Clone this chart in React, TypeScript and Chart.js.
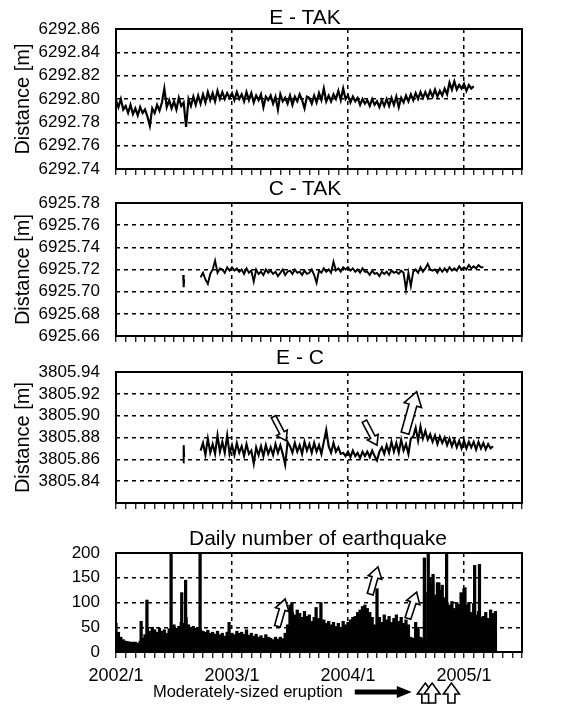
import { useEffect, useRef } from 'react';
import { Chart, registerables } from 'chart.js';

Chart.register(...registerables);

const FONT = "'Liberation Sans', Arial, Helvetica, sans-serif";

// ---------------- data ----------------
// x values are months since 2002/1
const MONTH_MIN = 0;
const MONTH_MAX = 42;
const YEAR_MONTHS = [0, 12, 24, 36];
const YEAR_LABELS = ['2002/1', '2003/1', '2004/1', '2005/1'];
const SAMPLE_STEP = 0.25; // months between samples

// E - TAK : offsets in mm from 6292.80 m
const E_TAK_TICK_LABELS = ['6292.74', '6292.76', '6292.78', '6292.80', '6292.82', '6292.84', '6292.86'];
const E_TAK_START = 0;
const E_TAK_MM = [
  -1, -7, 0, -9, -6, -12, -5, -13, -8, -14, -7, -12, -9, -15, -23, -8,
  -12, -5, -10, -3, 9, -7, -1, -8, -2, -9, 1, -6, -3, -24, 0, -6,
  2, -5, 3, -4, 4, -3, 6, -1, 5, -2, 7, 0, 6, 0, 5, 1,
  5, -1, 6, 0, 4, -2, 6, -1, 5, -3, 3, -1, 4, -7, 2, -1,
  3, -4, 2, -9, 4, -2, 1, -4, 3, -5, 2, -2, 4, -1, -8, 2,
  1, -4, 3, -3, 5, -1, 9, -2, 3, -2, 4, 0, 7, -1, 9, 0,
  3, -3, 2, -2, 1, -5, 0, -4, -1, -6, 0, -5, -2, -7, -1, -6,
  0, -6, 1, -5, 2, -7, 1, -3, 3, -2, 4, -1, 5, 0, 6, 1,
  6, 1, 7, 2, 8, 2, 7, 3, 9, 4, 14, 8, 15, 8, 12, 9,
  13, 7, 12, 9, 11,
];

// C - TAK : offsets in mm from 6925.72 m
const C_TAK_TICK_LABELS = ['6925.66', '6925.68', '6925.70', '6925.72', '6925.74', '6925.76', '6925.78'];
const C_TAK_ISOLATED_MONTHS = [6.95, 7.0, 7.05];
const C_TAK_ISOLATED_MM = [-5, -16, -9];
const C_TAK_START = 8.75;
const C_TAK_MM = [
  -7,
  -3, -9, -13, -4, 0, 8, -3, 1, 0, -3, 2, -1, 2, -1, 1, -2,
  0, -4, 1, -3, -1, -11, 0, -4, -2, -5, 0, -3, -1, -4, -2, -6,
  -3, 0, -5, -2, -1, -4, 0, -3, -2, -5, -1, -4, -3, 0, -5, -12,
  -1, -3, 1, -2, 0, -3, 7, -1, 1, -2, 2, 0, 2, -1, 1, -2,
  0, -3, 1, -2, -2, -5, -1, -4, -3, -6, -2, -4, -2, -5, -1, -3,
  -2, -4, -1, -3, -18, -3, -15, -2, 0, -3, 2, -2, 1, 5, 0, -1,
  0, -3, 1, -2, 1, -2, 2, -1, 1, -1, 3, 0, 2, 0, 4, 1,
  3, 1, 4, 2, 2,
];

// E - C : offsets in mm from 3805.87 m
const E_C_TICK_LABELS = ['', '3805.84', '3805.86', '3805.88', '3805.90', '3805.92', '3805.94'];
const E_C_ISOLATED_MONTHS = [6.95, 7.0, 7.05];
const E_C_ISOLATED_MM = [-13, 3, -8];
const E_C_START = 8.75;
const E_C_MM = [
  -2,
  5, -6, 9, -4, 4, -5, 12, -3, 6, -4, 12, -5, 3, -6, 5, -4,
  2, -7, 4, -5, -2, -14, 1, -6, 2, -7, 3, -5, 1, -6, 4, -4,
  3, -5, -15, 6, 2, -4, 5, -3, 3, -5, 6, -2, 4, -4, 5, -3,
  3, -5, 6, 17, 2, -4, 5, -3, 1, -5, -4, -7, -3, -8, -2, -7,
  -4, -9, -3, -7, -3, -8, -2, -7, -11, -3, 1, -5, 3, -4, 6, -3,
  5, -4, 8, -2, 4, -5, 9, 11, 19, 7, 20, 9, 16, 8, 13, 6,
  12, 4, 11, 5, 10, 3, 9, 2, 8, 1, 7, 0, 7, 0, 6, 1,
  6, -1, 6, 0, 5, -1, 4, 0, 2,
];

// Daily number of earthquakes
const EQ_TICK_LABELS = ['0', '50', '100', '150', '200'];
const EQ_START = 0;
const EQ_COUNTS = [
  58, 40, 30, 25, 22, 21, 20, 20, 20, 18, 22, 28, 35, 48, 42, 50,
  45, 40, 48, 42, 45, 38, 47, 50, 55, 48, 52, 60, 58, 70, 55, 48,
  52, 48, 50, 45, 42, 40, 44, 38, 40, 36, 42, 35, 38, 32, 40, 36,
  38, 35, 42, 38, 40, 36, 45, 34, 38, 32, 36, 30, 33, 28, 35, 30,
  28, 25, 30, 26, 30, 27, 38, 55, 95, 80, 75, 85, 78, 70, 82, 72,
  75, 62, 70, 65, 68, 60, 65, 58, 62, 55, 60, 52, 58, 50, 62, 55,
  60, 65, 70, 72, 80, 85, 92, 95, 88, 80, 70, 55, 25, 70, 60, 75,
  65, 72, 60, 68, 75, 62, 70, 58, 65, 55, 30, 28, 60, 50, 30, 28,
  25, 120, 150, 135, 115, 140, 125, 135, 110, 100, 95, 102, 88, 100, 96, 118,
  128, 95, 100, 80, 98, 75, 82, 70, 72, 80, 68, 85, 78, 82,
];
const EQ_SPIKE_MONTHS = [2.6, 3.2, 5.7, 6.8, 7.2, 8.7, 11.7, 18.2, 20.7, 21.2, 27.0, 31.9, 32.3, 32.8, 33.4, 34.2, 35.7, 36.1, 37.1, 37.6];
const EQ_SPIKE_COUNTS = [62, 105, 200, 120, 145, 200, 60, 100, 90, 100, 128, 190, 200, 157, 140, 200, 120, 130, 175, 177];

// annotation arrows: [tailMonth, tailValue, tipMonth, tipValue]
const E_C_ARROWS = [
  [16.3, 29, 17.6, 7],
  [25.7, 25, 27.0, 3],
  [29.9, 14, 31.1, 52],
];
const EQ_ARROWS = [
  [16.7, 52, 17.5, 107],
  [26.3, 117, 27.1, 172],
  [30.2, 68, 31.1, 121],
];
const ERUPTION_LABEL = 'Moderately-sized eruption';
const ERUPTION_ARROW_FROM = 24.7;
const ERUPTION_ARROW_TO = 30.6;
const ERUPTION_MONTHS = [32.0, 32.7, 34.7];

// ---------------- helpers ----------------
type Pt = { x: number; y: number };
function sampled(start: number, values: number[]): Pt[] {
  return values.map((v, i) => ({ x: start + i * SAMPLE_STEP, y: v }));
}
function paired(xs: number[], ys: number[]): Pt[] {
  return xs.map((x, i) => ({ x, y: ys[i] }));
}

const DASH = [4, 4];

function xAxis(height: number, showLabels: boolean): any {
  return {
    type: 'linear',
    min: MONTH_MIN,
    max: MONTH_MAX,
    offset: false,
    afterFit: (s: any) => {
      s.height = height;
    },
    grid: {
      drawOnChartArea: true,
      offset: false,
      color: (c: any) => {
        const v = Math.round(c.tick ? c.tick.value : -1);
        return YEAR_MONTHS.includes(v) && v !== MONTH_MIN ? '#000' : 'rgba(0,0,0,0)';
      },
      lineWidth: 1.5,
      drawTicks: true,
      tickLength: 6,
      tickColor: '#000',
      tickWidth: 1.2,
    },
    border: { display: false, dash: DASH },
    ticks: {
      stepSize: 1,
      maxTicksLimit: 100,
      autoSkip: false,
      maxRotation: 0,
      minRotation: 0,
      padding: 7,
      color: '#000',
      font: { family: FONT, size: 18 },
      callback: (v: number) => {
        if (!showLabels) return '';
        const i = YEAR_MONTHS.indexOf(Math.round(v));
        return i >= 0 ? YEAR_LABELS[i] : '';
      },
    },
  };
}

function yAxis(min: number, max: number, step: number, labels: string[], title?: string): any {
  return {
    type: 'linear',
    min,
    max,
    stacked: false,
    afterFit: (s: any) => {
      s.width = 116;
    },
    grid: {
      color: (c: any) => (c.index === 0 || c.index === labels.length - 1 ? 'rgba(0,0,0,0)' : '#000'),
      lineWidth: 1.5,
      drawTicks: true,
      tickLength: 16,
      tickColor: 'rgba(0,0,0,0)',
    },
    border: { display: false, dash: DASH },
    ticks: {
      stepSize: step,
      maxTicksLimit: 100,
      autoSkip: false,
      padding: 0,
      color: '#000',
      font: { family: FONT, size: 17 },
      callback: (_v: number, i: number) => labels[i] ?? '',
    },
    title: title
      ? { display: true, text: title, color: '#000', font: { family: FONT, size: 20 }, padding: { top: 11, bottom: 0 } }
      : { display: false },
  };
}

function blockArrow(
  ctx: CanvasRenderingContext2D,
  x1: number, y1: number, x2: number, y2: number,
  shaftHalf: number, headHalf: number, headLen: number, fill: string,
) {
  const dx = x2 - x1;
  const dy = y2 - y1;
  const L = Math.hypot(dx, dy);
  const ux = dx / L;
  const uy = dy / L;
  const nx = -uy;
  const ny = ux;
  const bx = x2 - ux * headLen;
  const by = y2 - uy * headLen;
  ctx.beginPath();
  ctx.moveTo(x1 + nx * shaftHalf, y1 + ny * shaftHalf);
  ctx.lineTo(bx + nx * shaftHalf, by + ny * shaftHalf);
  ctx.lineTo(bx + nx * headHalf, by + ny * headHalf);
  ctx.lineTo(x2, y2);
  ctx.lineTo(bx - nx * headHalf, by - ny * headHalf);
  ctx.lineTo(bx - nx * shaftHalf, by - ny * shaftHalf);
  ctx.lineTo(x1 - nx * shaftHalf, y1 - ny * shaftHalf);
  ctx.closePath();
  ctx.fillStyle = fill;
  ctx.fill();
  ctx.strokeStyle = '#000';
  ctx.lineWidth = 1.6;
  ctx.lineJoin = 'miter';
  ctx.stroke();
}

const framePlugin = {
  id: 'frame',
  afterDraw(chart: any) {
    const { ctx, chartArea: a } = chart;
    ctx.save();
    ctx.strokeStyle = '#000';
    ctx.lineWidth = 2;
    ctx.setLineDash([]);
    ctx.strokeRect(a.left, a.top, a.right - a.left, a.bottom - a.top);
    ctx.restore();
  },
};

function arrowsPlugin(arrows: number[][], sizes: number[][]) {
  return {
    id: 'arrows',
    afterDatasetsDraw(chart: any) {
      const { ctx } = chart;
      const xs = chart.scales.x;
      const ys = chart.scales.y;
      ctx.save();
      arrows.forEach((a, i) => {
        const [sh, hh, hl] = sizes[i];
        blockArrow(
          ctx,
          xs.getPixelForValue(a[0]), ys.getPixelForValue(a[1]),
          xs.getPixelForValue(a[2]), ys.getPixelForValue(a[3]),
          sh, hh, hl, '#fff',
        );
      });
      ctx.restore();
    },
  };
}

const eruptionPlugin = {
  id: 'eruption',
  afterDraw(chart: any) {
    const { ctx, chartArea } = chart;
    const xs = chart.scales.x;
    const yMid = chartArea.bottom + 40;
    ctx.save();
    const x0 = xs.getPixelForValue(ERUPTION_ARROW_FROM);
    const x1 = xs.getPixelForValue(ERUPTION_ARROW_TO);
    // label
    ctx.fillStyle = '#000';
    ctx.font = `16.5px ${FONT}`;
    ctx.textAlign = 'right';
    ctx.textBaseline = 'middle';
    ctx.fillText(ERUPTION_LABEL, x0 - 12, yMid);
    // solid black arrow
    ctx.beginPath();
    ctx.moveTo(x0, yMid - 2.5);
    ctx.lineTo(x1 - 15, yMid - 2.5);
    ctx.lineTo(x1 - 15, yMid - 6);
    ctx.lineTo(x1, yMid);
    ctx.lineTo(x1 - 15, yMid + 6);
    ctx.lineTo(x1 - 15, yMid + 2.5);
    ctx.lineTo(x0, yMid + 2.5);
    ctx.closePath();
    ctx.fillStyle = '#000';
    ctx.fill();
    // eruption up arrows
    ERUPTION_MONTHS.forEach((m) => {
      const x = xs.getPixelForValue(m);
      blockArrow(ctx, x, chartArea.bottom + 51, x, chartArea.bottom + 31, 3.5, 8, 11, '#fff');
    });
    ctx.restore();
  },
};

function lineDs(data: Pt[], width: number): any {
  return {
    type: 'line',
    data,
    borderColor: '#000',
    backgroundColor: '#000',
    borderWidth: width,
    pointRadius: 0,
    tension: 0,
    fill: false,
    borderJoinStyle: 'miter',
  };
}

function baseOptions(padTop: number, scales: any): any {
  return {
    responsive: false,
    animation: false,
    events: [],
    layout: { padding: { top: padTop, right: 42, bottom: 0, left: 0 } },
    plugins: { legend: { display: false }, tooltip: { enabled: false }, title: { display: false } },
    scales,
  };
}

// ---------------- configs ----------------
function eTakConfig(): any {
  return {
    type: 'line',
    data: { datasets: [lineDs(sampled(E_TAK_START, E_TAK_MM), 2.2)] },
    options: baseOptions(29, { x: xAxis(13, false), y: yAxis(-60, 60, 20, E_TAK_TICK_LABELS, 'Distance [m]') }),
    plugins: [framePlugin],
  };
}

function cTakConfig(): any {
  return {
    type: 'line',
    data: {
      datasets: [
        lineDs(paired(C_TAK_ISOLATED_MONTHS, C_TAK_ISOLATED_MM), 2),
        lineDs(sampled(C_TAK_START, C_TAK_MM), 1.9),
      ],
    },
    options: baseOptions(21, { x: xAxis(14, false), y: yAxis(-60, 60, 20, C_TAK_TICK_LABELS, 'Distance [m]') }),
    plugins: [framePlugin],
  };
}

function eCConfig(): any {
  return {
    type: 'line',
    data: {
      datasets: [
        lineDs(paired(E_C_ISOLATED_MONTHS, E_C_ISOLATED_MM), 2),
        lineDs(sampled(E_C_START, E_C_MM), 2.1),
      ],
    },
    options: baseOptions(22, { x: xAxis(17, false), y: yAxis(-50, 70, 20, E_C_TICK_LABELS, 'Distance [m]') }),
    plugins: [framePlugin, arrowsPlugin(E_C_ARROWS, [[2.5, 6, 9], [2.5, 6, 9], [4, 9, 14]])],
  };
}

function eqConfig(): any {
  return {
    type: 'bar',
    data: {
      datasets: [
        {
          type: 'bar',
          data: [...sampled(EQ_START, EQ_COUNTS), ...paired(EQ_SPIKE_MONTHS, EQ_SPIKE_COUNTS)],
          backgroundColor: '#000',
          borderWidth: 0,
          barThickness: 2.6,
        },
      ],
    },
    options: baseOptions(33, { x: xAxis(55, true), y: yAxis(0, 200, 50, EQ_TICK_LABELS) }),
    plugins: [framePlugin, arrowsPlugin(EQ_ARROWS, [[3, 7, 11], [3, 7, 11], [3, 7, 11]]), eruptionPlugin],
  };
}

// ---------------- components ----------------
function Panel({ top, height, build }: { top: number; height: number; build: () => any }) {
  const ref = useRef<HTMLCanvasElement>(null);
  useEffect(() => {
    const chart = new Chart(ref.current as HTMLCanvasElement, build());
    return () => chart.destroy();
  }, []);
  return (
    <div style={{ position: 'absolute', left: 0, top, width: 564, height }}>
      <canvas ref={ref} width={564} height={height} style={{ display: 'block', width: 564, height }} />
    </div>
  );
}

function Title({ text, cx, cy }: { text: string; cx: number; cy: number }) {
  return (
    <div
      style={{
        position: 'absolute',
        left: cx - 200,
        top: cy - 12,
        width: 400,
        height: 24,
        lineHeight: '24px',
        textAlign: 'center',
        fontFamily: FONT,
        fontSize: 21,
        color: '#000',
        zIndex: 2,
        pointerEvents: 'none',
      }}
    >
      {text}
    </div>
  );
}

export default function App() {
  return (
    <div style={{ position: 'absolute', left: 0, top: 0, width: 564, height: 707, background: '#fff', overflow: 'hidden' }}>
      <Panel top={0} height={182} build={eTakConfig} />
      <Panel top={182} height={168} build={cTakConfig} />
      <Panel top={350} height={170} build={eCConfig} />
      <Panel top={520} height={187} build={eqConfig} />
      <Title text="E - TAK" cx={305} cy={17} />
      <Title text="C - TAK" cx={305} cy={188} />
      <Title text="E - C" cx={300} cy={357} />
      <Title text="Daily number of earthquake" cx={318} cy={538} />
    </div>
  );
}
